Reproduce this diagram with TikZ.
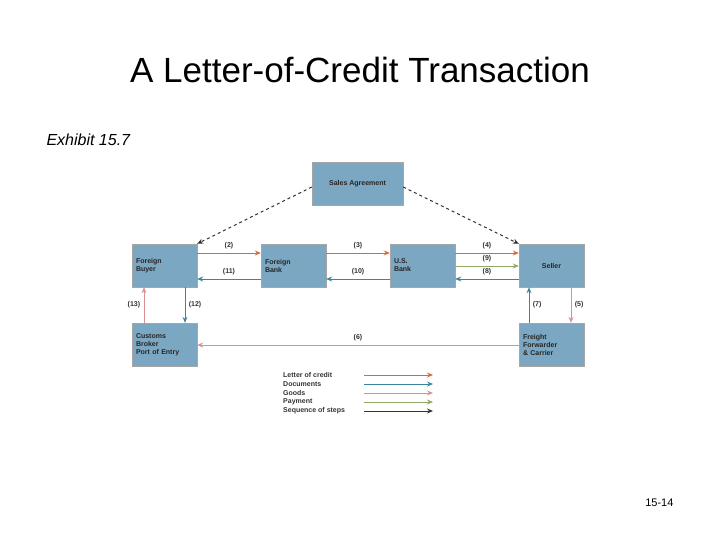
\documentclass[tikz,border=0pt]{standalone}
\usepackage{fontspec}
\setmainfont{Liberation Sans}
\usetikzlibrary{arrows.meta}
\definecolor{boxc}{HTML}{7BA7C2}
\definecolor{lc}{HTML}{D9683A}
\definecolor{dc}{HTML}{3A85A0}
\definecolor{gc}{HTML}{D89090}
\definecolor{pc}{HTML}{8FA868}
\definecolor{sc}{HTML}{333333}
\tikzset{
 bx/.style={draw=gray!70,fill=boxc,minimum width=65pt,minimum height=43pt,inner sep=4pt,font=\fontsize{7}{8}\selectfont\bfseries,text=black!85},
 ar/.style={line width=1pt,-{Stealth[length=6pt,width=5pt]}},
 lb/.style={font=\fontsize{7}{8}\selectfont\bfseries,text=black!80},
}
\begin{document}
\begin{tikzpicture}[x=1pt,y=-1pt]
\useasboundingbox (0,0) rectangle (720,540);
\node at (360,70) {\fontsize{35}{40}\selectfont A Letter-of-Credit Transaction};
\node[anchor=west] at (43,140) {\fontsize{16}{18}\selectfont\itshape Exhibit 15.7};
\node[bx,minimum width=91pt] (sa) at (357.5,183.5) {Sales Agreement};
\node[bx,align=left,text width=57pt] (fb) at (164.5,265.5) {Foreign\\Buyer};
\node[bx,align=left,text width=57pt] (fk) at (293.5,265.5) {Foreign\\Bank};
\node[bx,align=left,text width=57pt] (us) at (422.5,265.5) {U.S.\\Bank};
\node[bx,align=center] (se) at (551.5,265.5) {Seller};
\node[bx,align=left,text width=57pt] (cb) at (164.5,344.5) {Customs\\Broker\\Port of Entry};
\node[bx,align=left,text width=57pt] (ff) at (551.5,344.5) {Freight\\Forwarder\\\& Carrier};
% dashed
\draw[ar,dashed,sc] (sa.west|-0,187) -- (fb.north east);
\draw[ar,dashed,sc] (sa.east|-0,187) -- (se.north west);
% top
\draw[ar,lc] (fb.east|-0,253) -- node[lb,above]{(2)} (fk.west|-0,253);
\draw[ar,lc] (fk.east|-0,253) -- node[lb,above]{(3)} (us.west|-0,253);
\draw[ar,lc] (us.east|-0,253) -- node[lb,above]{(4)} (se.west|-0,253);
\draw[ar,pc] (us.east|-0,266) -- node[lb,above]{(9)} (se.west|-0,266);
\draw[ar,dc] (se.west|-0,279) -- node[lb,above]{(8)} (us.east|-0,279);
\draw[ar,dc] (us.west|-0,279) -- node[lb,above]{(10)} (fk.east|-0,279);
\draw[ar,dc] (fk.west|-0,279) -- node[lb,above]{(11)} (fb.east|-0,279);
% verticals
\draw[ar,gc] (cb.north-|144,0) -- node[lb,left]{(13)} (fb.south-|144,0);
\draw[ar,dc] (fb.south-|185,0) -- node[lb,right]{(12)} (cb.north-|185,0);
\draw[ar,dc] (ff.north-|529,0) -- node[lb,right]{(7)} (se.south-|529,0);
\draw[ar,gc] (se.south-|571,0) -- node[lb,right]{(5)} (ff.north-|571,0);
\draw[ar,gc] (ff.west|-0,345) -- node[lb,above]{(6)} (cb.east|-0,345);
% legend
\foreach \t/\c/\y [count=\i] in {Letter of credit/lc/375,Documents/dc/384,Goods/gc/393,Payment/pc/402,Sequence of steps/sc/411}{
 \node[lb,anchor=west,inner sep=0pt] (l\i) at (283,\y) {\t};
 \coordinate (s\i) at (364,\y);
 \coordinate (e\i) at (433,\y);
 \draw[ar,\c] (s\i) -- (e\i);
}
\node[anchor=east] at (677,503) {\fontsize{11}{12}\selectfont 15-14};
\end{tikzpicture}
\end{document}
